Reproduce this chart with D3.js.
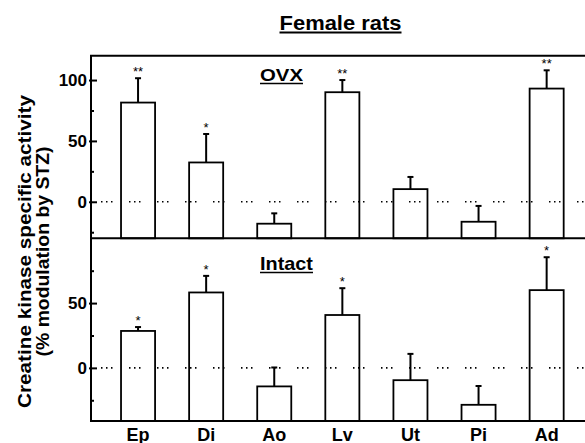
<!DOCTYPE html>
<html><head><meta charset="utf-8">
<script src="https://cdn.jsdelivr.net/npm/d3@7"></script>
<style>body{margin:0;background:#fff}svg{display:block}text{font-family:"Liberation Sans",Arial,Helvetica,sans-serif}</style>
</head><body>
<svg id="c" width="585" height="443"></svg>
<script>
const categories = ["Ep","Di","Ao","Lv","Ut","Pi","Ad"];
const ovxValues  = [81.5, 32.3, -18, 90, 10.4, -16.4, 93];
const ovxErrors  = [20, 23.4, 8.5, 10, 10, 13, 15];
const ovxStars   = ["**","*","","**","","","**"];
const intactValues = [28.5, 58.2, -14.3, 40.8, -9.5, -28.5, 60];
const intactErrors = [3, 12.8, 14.6, 20.7, 20.3, 14.5, 25.4];
const intactStars  = ["*","*","","*","","","*"];
const majorTicksTop = [0, 50, 100];
const majorTicksBottom = [0, 50];
const minorTicks = [-25, 25, 75];

const svg = d3.select("#c");
const left = 91, right = 600;
const x = d3.scaleBand().domain(categories).range([104, 580.7]).paddingInner(0.5).paddingOuter(0.25);

function fitText(parent, str, x0, y0, size, width, anchor) {
  const t = parent.append("text").attr("font-size", size).attr("font-weight", "bold").attr("text-anchor", anchor).text(str);
  const L = t.node().getComputedTextLength();
  t.attr("transform", `translate(${x0},${y0}) scale(${width / L},1)`);
  return t;
}

const panels = [
  {name:"OVX", values: ovxValues, errors: ovxErrors, stars: ovxStars, domain:[-30,120], top:55.7, bottom:238.3, major: majorTicksTop, labelY: 80.5, labelW: 43, labelSize: 16},
  {name:"Intact", values: intactValues, errors: intactErrors, stars: intactStars, domain:[-41,100], top:238.3, bottom:421, major: majorTicksBottom, labelY: 269.5, labelW: 53, labelSize: 17.5}
];

panels.forEach(p => {
  const y = d3.scaleLinear().domain(p.domain).range([p.bottom, p.top]);
  const g = svg.append("g");
  g.selectAll("rect.bar").data(categories).join("rect")
    .attr("x", d => x(d)).attr("width", x.bandwidth())
    .attr("y", (d,i) => y(p.values[i]))
    .attr("height", (d,i) => p.bottom - y(p.values[i]))
    .attr("fill", "#fff").attr("stroke", "#000").attr("stroke-width", 1.8);
  g.selectAll("line.err").data(categories).join("line")
    .attr("x1", d => x(d) + x.bandwidth()/2).attr("x2", d => x(d) + x.bandwidth()/2)
    .attr("y1", (d,i) => y(p.values[i])).attr("y2", (d,i) => y(p.values[i] + p.errors[i]))
    .attr("stroke", "#000").attr("stroke-width", 2);
  g.selectAll("line.cap").data(categories).join("line")
    .attr("x1", d => x(d) + x.bandwidth()/2 - 3).attr("x2", d => x(d) + x.bandwidth()/2 + 3)
    .attr("y1", (d,i) => y(p.values[i] + p.errors[i])).attr("y2", (d,i) => y(p.values[i] + p.errors[i]))
    .attr("stroke", "#000").attr("stroke-width", 2);
  g.selectAll("text.star").data(categories).join("text")
    .attr("x", d => x(d) + x.bandwidth()/2)
    .attr("y", (d,i) => y(p.values[i] + p.errors[i]) - 2)
    .attr("text-anchor", "middle").attr("font-size", 13).attr("fill", "#000")
    .text((d,i) => p.stars[i]);
  g.append("line").attr("x1", left + 10).attr("x2", right).attr("y1", y(0)).attr("y2", y(0))
    .attr("stroke", "#000").attr("stroke-width", 1.6).attr("stroke-dasharray", "1.5,3.5,1.5,3.5,1.5,16.5");
  const major = d3.axisLeft(y).tickValues(p.major).tickSize(-6).tickPadding(4).tickFormat(d3.format("d"));
  const ga = g.append("g").attr("transform", `translate(${left},0)`).call(major);
  ga.select(".domain").remove();
  ga.selectAll(".tick line").attr("x1", -2).attr("stroke-width", 2);
  ga.selectAll(".tick text").attr("font-size", 17).attr("font-weight", "bold").attr("fill", "#000")
    .style("font-family", '"Liberation Sans",Arial,sans-serif');
  const minor = d3.axisLeft(y).tickValues(minorTicks).tickSize(-3).tickFormat("");
  const gm = g.append("g").attr("transform", `translate(${left},0)`).call(minor);
  gm.select(".domain").remove();
  gm.selectAll(".tick line").attr("stroke-width", 2);
  fitText(g, p.name, 260, p.labelY, p.labelSize, p.labelW, "start");
  g.append("line").attr("x1", 260).attr("x2", 260 + p.labelW).attr("y1", p.labelY + 3).attr("y2", p.labelY + 3).attr("stroke", "#000").attr("stroke-width", 1.6);
});

[55.7, 238.3, 421].forEach(yy => {
  svg.append("line").attr("x1", left - 1).attr("x2", right).attr("y1", yy).attr("y2", yy).attr("stroke", "#000").attr("stroke-width", 2);
});
svg.append("line").attr("x1", left).attr("x2", left).attr("y1", 55.7).attr("y2", 421).attr("stroke", "#000").attr("stroke-width", 2);

const xa = d3.axisBottom(x).tickSize(0).tickPadding(0);
const gx = svg.append("g").attr("transform", "translate(0,421)").call(xa);
gx.select(".domain").remove();
gx.selectAll(".tick text").attr("dy", null).attr("y", 19.5).attr("font-size", 18).attr("font-weight", "bold").attr("fill", "#000")
  .style("font-family", '"Liberation Sans",Arial,sans-serif');

fitText(svg, "Female rats", 340.5, 29.5, 19.5, 122, "middle");
svg.append("line").attr("x1", 340.5 - 61).attr("x2", 340.5 + 61).attr("y1", 32.5).attr("y2", 32.5).attr("stroke", "#000").attr("stroke-width", 2.2);

const yg = svg.append("g").attr("transform", "translate(31,251.5) rotate(-90)");
fitText(yg, "Creatine kinase specific activity", 0, 0, 17.5, 313, "middle");
fitText(yg, "(% modulation by STZ)", 0, 18, 17.5, 210, "middle");
</script>
</body></html>
